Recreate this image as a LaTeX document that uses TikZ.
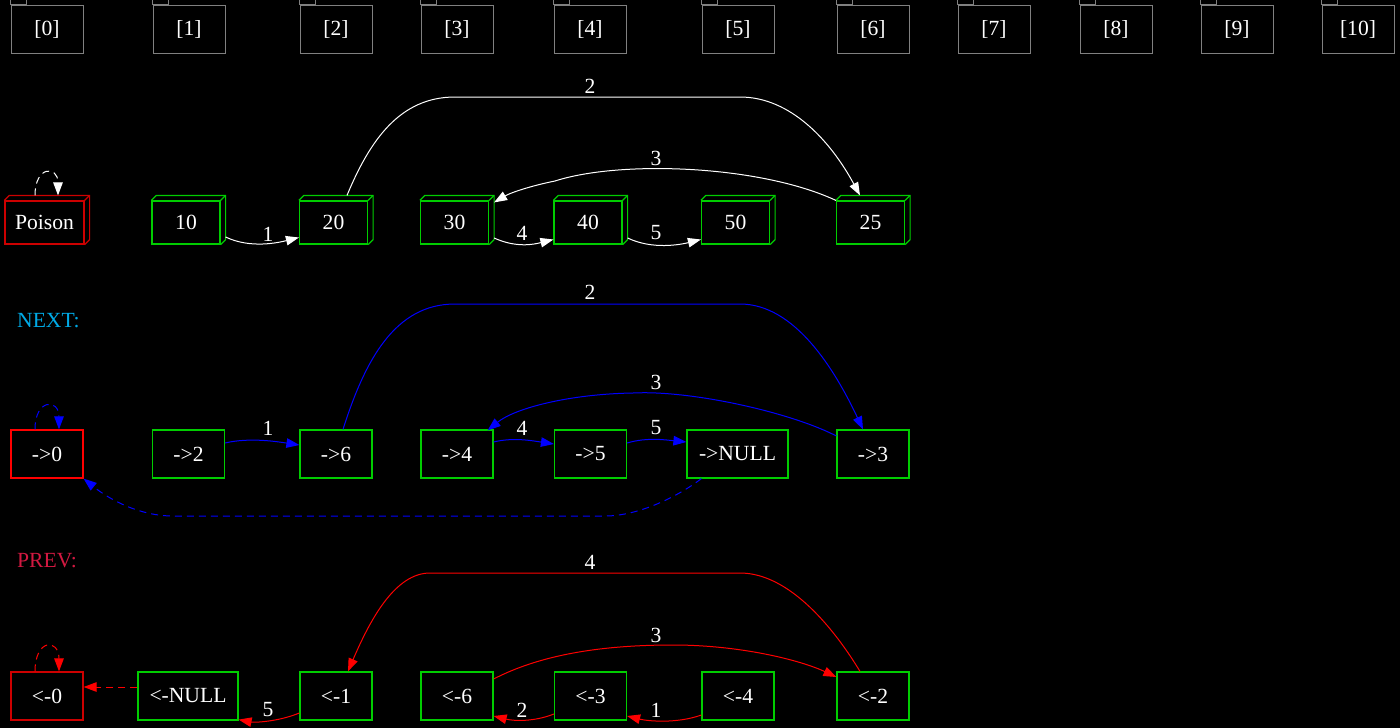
\documentclass[tikz,border=0pt]{standalone}
\usepackage{fontspec}
\setmainfont{Liberation Serif}
\usetikzlibrary{arrows.meta,calc}
\definecolor{gv}{RGB}{0,205,0}
\definecolor{dred}{RGB}{205,0,0}
\definecolor{fgray}{RGB}{128,128,128}
\definecolor{nextc}{RGB}{0,170,230}
\definecolor{prevc}{RGB}{210,25,65}
\newcommand\mycube[5]{%
  \node[cube, draw=#4, minimum width=#3pt] (#1) at (#2,222.5) {#5};
  \draw[#4, line width=1.2pt] (#1.north west) -- ++(5,-5) -| ($(#1.south east)+(5,-5)$) -- (#1.south east);
  \draw[#4, line width=1.2pt] (#1.north east) -- ++(5,-5);
}
\begin{document}
\begin{tikzpicture}[x=1pt,y=-1pt,
  font=\fontsize{21.6}{25}\selectfont,
  cube/.style={line width=1.2pt, minimum height=43pt, inner sep=0pt, text=white},
  box/.style={draw=gv, line width=1.2pt, minimum width=72pt, minimum height=48pt, inner sep=0pt, text=white},
  folder/.style={draw=fgray, line width=1pt, minimum width=72pt, minimum height=48pt, inner sep=0pt, text=white},
  lbl/.style={text=white, inner sep=0pt},
  arrowtip/.style={-{Triangle[length=13pt,width=9.5pt]}},
  wedge/.style={white, line width=1pt, arrowtip},
  bedge/.style={blue, line width=1pt, arrowtip},
  redge/.style={red, line width=1pt, arrowtip},
  dashd/.style={dash pattern=on 7pt off 5pt}]
\useasboundingbox (0,0) rectangle (1400,728);
\fill[black] (0,0) rectangle (1400,728);
% folders
\foreach \i/\x in {0/47,1/189,2/336,3/457,4/590,5/738,6/873,7/994,8/1116,9/1237,10/1358}{
  \node[folder] (f\i) at (\x,29) {[\i]};
  \draw[fgray, line width=1pt] (f\i.north west) rectangle ++(16,-5);
}
% row 1
\mycube{poison}{44.5}{79}{dred}{Poison}
\mycube{c10}{186}{68}{gv}{10}
\mycube{c20}{333.5}{68}{gv}{20}
\mycube{c30}{454.5}{68}{gv}{30}
\mycube{c40}{588}{68}{gv}{40}
\mycube{c50}{735.5}{68}{gv}{50}
\mycube{c25}{870.5}{68}{gv}{25}
\draw[wedge] ($(c10.east)+(5,14.5)$) .. controls +(25,12) and +(-20,5) .. ($(c20.west)+(0,15)$);
\draw[wedge] ($(c20.north)+(13.5,-5)$) .. controls (370,140) and (400,97) .. (455,97) -- (740,97) .. controls (790,97) and (830,140) .. ($(c25.north)+(-10.5,-5)$);
\draw[wedge] (c25.north west) .. controls (760,165) and (620,160) .. (555,181) .. controls (530,186) and (510,193) .. ($(c30.north east)+(5,2)$);
\draw[wedge] ($(c30.east)+(5,15.5)$) .. controls +(22,10) and +(-20,5) .. ($(c40.west)+(0,17)$);
\draw[wedge] ($(c40.east)+(5,15.5)$) .. controls +(25,12) and +(-20,5) .. ($(c50.west)+(0,17)$);
\draw[wedge, dashd] ($(poison.north)+(-9.5,-5)$) .. controls +(0,-30) and +(0,-30) .. ($(poison.north)+(13.5,-5)$);
\node[lbl] (l12) at (590,86) {2};
\node[lbl] (l13) at (656,158) {3};
\node[lbl] (l11) at (268,234) {1};
\node[lbl] (l14) at (522,233) {4};
\node[lbl] (l15) at (656,233) {5};
% NEXT
\node[text=nextc, anchor=west, inner sep=0pt] (nextlbl) at (17,321) {NEXT:};
\node[box, draw=red] (a0) at (47,454) {->0};
\node[box] (a2) at (188.5,454) {->2};
\node[box] (a6) at (336,454) {->6};
\node[box] (a4) at (457,454) {->4};
\node[box] (a5) at (590.5,454) {->5};
\node[box, minimum width=101pt] (anull) at (737.5,454) {->NULL};
\node[box] (a3) at (873,454) {->3};
\draw[bedge] ($(a2.east)+(0,-11)$) .. controls +(25,-6) and +(-20,-3) .. ($(a6.west)+(0,-9)$);
\draw[bedge] ($(a6.north)+(7,0)$) .. controls (365,360) and (395,304) .. (455,304) -- (740,304) .. controls (795,304) and (835,370) .. ($(a3.north)+(-10,0)$);
\draw[bedge] ($(a3.west)+(0,-18)$) .. controls (790,412) and (690,390) .. (633,393) .. controls (570,394) and (515,408) .. ($(a4.north east)+(-6,1)$);
\draw[bedge] ($(a4.east)+(0,-12)$) .. controls +(20,-5) and +(-20,-3) .. ($(a5.west)+(0,-10)$);
\draw[bedge] ($(a5.east)+(0,-11)$) .. controls +(20,-6) and +(-20,-2) .. ($(anull.west)+(0,-12)$);
\draw[bedge, dashd] ($(anull.south west)+(15,0)$) .. controls (680,495) and (640,516) .. (605,516) -- (173,516) .. controls (140,516) and (110,500) .. (a0.south east);
\draw[bedge, dashd] ($(a0.north)+(-12,0)$) .. controls +(0,-31) and +(0,-31) .. ($(a0.north)+(12,0)$);
\node[lbl] (l22) at (590,292) {2};
\node[lbl] (l23) at (656,382) {3};
\node[lbl] (l21) at (268,428) {1};
\node[lbl] (l24) at (522,428) {4};
\node[lbl] (l25) at (656,428) {5};
% PREV
\node[text=prevc, anchor=west, inner sep=0pt] (prevlbl) at (17,561) {PREV:};
\node[box, draw=dred] (b0) at (47,696) {<-0};
\node[box, minimum width=100pt] (bnull) at (188,696) {<-NULL};
\node[box] (b1) at (336,696) {<-1};
\node[box] (b6) at (457,696) {<-6};
\node[box] (b3) at (590.5,696) {<-3};
\node[box] (b4) at (738,696) {<-4};
\node[box] (b2) at (873,696) {<-2};
\draw[redge] ($(b2.north)+(-13,0)$) .. controls (835,630) and (790,573) .. (740,573) -- (430,573) .. controls (395,573) and (370,620) .. ($(b1.north)+(12,0)$);
\draw[redge] ($(b6.east)+(0,-17)$) .. controls (540,655) and (600,645) .. (673,645) .. controls (740,645) and (800,660) .. ($(b2.west)+(0,-19)$);
\draw[redge] ($(b3.west)+(0,18)$) .. controls +(-20,8) and +(20,5) .. ($(b6.east)+(0,20)$);
\draw[redge] ($(b4.west)+(0,19)$) .. controls +(-25,9) and +(20,5) .. ($(b3.east)+(0,20)$);
\draw[redge] ($(b1.west)+(0,17)$) .. controls +(-22,9) and +(15,3) .. ($(bnull.south east)+(0,-1)$);
\draw[redge, dashd] ($(bnull.west)+(0,-9)$) -- ($(b0.east)+(0,-9)$);
\draw[redge, dashd] ($(b0.north)+(-12,0)$) .. controls +(0,-33) and +(0,-33) .. ($(b0.north)+(12,0)$);
\node[lbl] (l34) at (590,562) {4};
\node[lbl] (l33) at (656,635) {3};
\node[lbl] (l35) at (268,710) {5};
\node[lbl] (l32) at (522,710) {2};
\node[lbl] (l31) at (656,710) {1};
\end{tikzpicture}
\end{document}
